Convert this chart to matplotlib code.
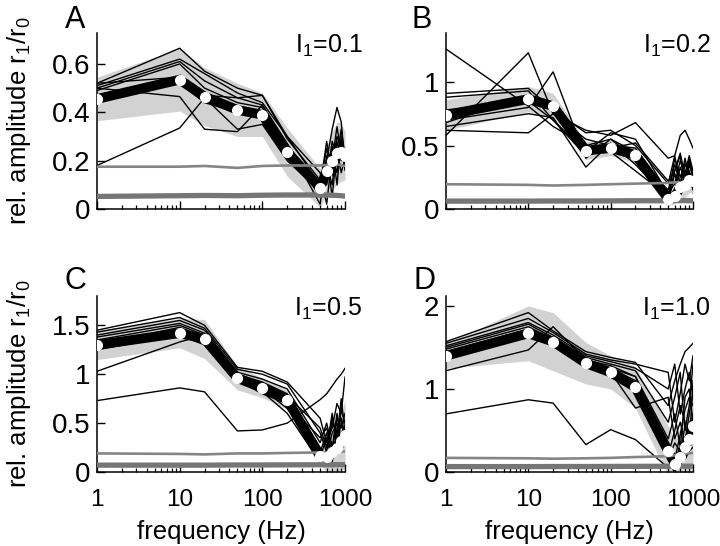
import matplotlib
matplotlib.use("Agg")
import matplotlib.pyplot as plt
from matplotlib.ticker import LogLocator, NullFormatter, FixedLocator

plt.rcParams['font.family'] = ['Liberation Sans', 'DejaVu Sans']
plt.rcParams['mathtext.fontset'] = 'custom'
plt.rcParams['mathtext.rm'] = 'Liberation Sans'
plt.rcParams['mathtext.it'] = 'Liberation Sans:italic'
plt.rcParams['mathtext.default'] = 'regular'

# ---------------- data ----------------
freq = [1, 10, 20, 50, 100, 200, 500, 600, 700, 800, 900, 1000]

# Panel A  (I1 = 0.1)
a_mean = [0.455, 0.535, 0.465, 0.41, 0.39, 0.235, 0.088, 0.158, 0.20, 0.23, 0.235, 0.22]
a_sd = [0.09, 0.13, 0.12, 0.11, 0.09, 0.10, 0.08, 0.10, 0.12, 0.13, 0.12, 0.10]
a_cells = [
    [0.52, 0.665, 0.57, 0.50, 0.47, 0.29, 0.12, 0.20, 0.33, 0.42, 0.36, 0.18],
    [0.51, 0.62, 0.56, 0.48, 0.44, 0.30, 0.10, 0.25, 0.18, 0.30, 0.25, 0.20],
    [0.50, 0.61, 0.53, 0.46, 0.43, 0.27, 0.08, 0.12, 0.28, 0.22, 0.33, 0.22],
    [0.49, 0.60, 0.50, 0.44, 0.42, 0.26, 0.05, 0.18, 0.10, 0.28, 0.20, 0.24],
    [0.52, 0.545, 0.47, 0.46, 0.47, 0.30, 0.15, 0.02, 0.22, 0.15, 0.30, 0.17],
    [0.50, 0.465, 0.33, 0.32, 0.43, 0.27, 0.02, 0.22, 0.05, 0.25, 0.15, 0.21],
    [0.18, 0.335, 0.46, 0.33, 0.35, 0.20, 0.07, 0.15, 0.26, 0.10, 0.28, 0.19],
    [0.47, 0.55, 0.47, 0.41, 0.40, 0.24, 0.10, 0.10, 0.20, 0.34, 0.23, 0.25],
    [0.46, 0.52, 0.44, 0.40, 0.38, 0.21, 0.09, 0.28, 0.14, 0.19, 0.27, 0.16],
]
a_ctrl_thin = [0.175, 0.175, 0.178, 0.17, 0.178, 0.18, 0.18, 0.182, 0.183, 0.185, 0.18, 0.178]
a_ctrl_thick = [0.052, 0.055, 0.056, 0.055, 0.057, 0.058, 0.058, 0.058, 0.057, 0.056, 0.055, 0.053]

# Panel B  (I1 = 0.2)
b_mean = [0.74, 0.866, 0.81, 0.46, 0.48, 0.425, 0.08, 0.10, 0.17, 0.19, 0.23, 0.22]
b_sd = [0.12, 0.10, 0.10, 0.07, 0.06, 0.06, 0.05, 0.06, 0.08, 0.10, 0.10, 0.10]
b_cells = [
    [1.26, 0.81, 0.65, 0.50, 0.55, 0.40, 0.15, 0.35, 0.20, 0.40, 0.25, 0.20],
    [0.58, 1.23, 0.75, 0.55, 0.50, 0.48, 0.10, 0.30, 0.42, 0.15, 0.38, 0.25],
    [0.91, 0.95, 0.78, 0.60, 0.62, 0.50, 0.20, 0.42, 0.18, 0.35, 0.30, 0.22],
    [0.88, 0.93, 0.70, 0.45, 0.60, 0.55, 0.12, 0.20, 0.38, 0.28, 0.42, 0.30],
    [0.62, 0.60, 0.75, 0.62, 0.58, 0.68, 0.40, 0.42, 0.58, 0.62, 0.55, 0.48],
    [0.70, 0.80, 1.08, 0.40, 0.55, 0.45, 0.05, 0.28, 0.12, 0.30, 0.20, 0.18],
    [0.65, 0.75, 0.72, 0.33, 0.52, 0.35, 0.08, 0.15, 0.33, 0.22, 0.40, 0.24],
    [0.68, 0.90, 0.82, 0.50, 0.45, 0.30, 0.10, 0.40, 0.25, 0.36, 0.28, 0.15],
    [0.78, 0.85, 0.70, 0.42, 0.48, 0.52, 0.22, 0.30, 0.44, 0.26, 0.34, 0.27],
]
b_ctrl_thin = [0.195, 0.19, 0.185, 0.19, 0.195, 0.20, 0.205, 0.21, 0.21, 0.215, 0.22, 0.22]
b_ctrl_thick = [0.062, 0.062, 0.063, 0.063, 0.064, 0.065, 0.065, 0.066, 0.066, 0.066, 0.065, 0.065]

# Panel C  (I1 = 0.5)
c_mean = [1.30, 1.42, 1.36, 0.96, 0.86, 0.74, 0.16, 0.15, 0.20, 0.25, 0.32, 0.38]
c_sd = [0.15, 0.15, 0.20, 0.12, 0.10, 0.10, 0.08, 0.15, 0.20, 0.25, 0.30, 0.35]
c_cells = [
    [1.45, 1.63, 1.50, 1.07, 1.03, 0.92, 0.55, 0.30, 0.45, 0.70, 0.60, 0.97],
    [1.43, 1.58, 1.47, 1.05, 1.00, 0.90, 0.40, 0.20, 0.55, 0.35, 0.75, 0.40],
    [1.40, 1.55, 1.45, 1.02, 0.95, 0.85, 0.30, 0.50, 0.25, 0.60, 0.30, 0.45],
    [1.38, 1.52, 1.42, 1.00, 0.92, 0.80, 0.25, 0.15, 0.40, 0.50, 0.20, 0.35],
    [1.35, 1.50, 1.40, 0.98, 0.90, 0.72, 0.20, 0.40, 0.10, 0.45, 0.55, 0.30],
    [1.30, 1.48, 1.38, 0.97, 0.85, 0.65, 0.15, 0.35, 0.30, 0.20, 0.65, 0.50],
    [1.28, 1.45, 1.36, 0.95, 0.82, 0.60, 0.10, 0.22, 0.50, 0.40, 0.25, 0.28],
    [1.25, 1.40, 1.30, 0.94, 0.80, 0.70, 0.35, 0.45, 0.20, 0.55, 0.45, 0.60],
    [1.03, 1.33, 1.40, 1.00, 0.88, 0.78, 0.45, 0.25, 0.60, 0.30, 0.50, 0.42],
    [0.73, 0.86, 0.82, 0.42, 0.43, 0.50, 0.74, 0.80, 0.88, 0.95, 1.00, 1.06],
]
c_ctrl_thin = [0.19, 0.185, 0.18, 0.19, 0.19, 0.195, 0.20, 0.20, 0.205, 0.21, 0.21, 0.21]
c_ctrl_thick = [0.07, 0.07, 0.07, 0.072, 0.072, 0.073, 0.074, 0.074, 0.074, 0.075, 0.075, 0.075]

# Panel D  (I1 = 1.0)
d_mean = [1.40, 1.67, 1.57, 1.31, 1.20, 1.02, 0.25, 0.10, 0.18, 0.30, 0.40, 0.55]
d_sd = [0.15, 0.33, 0.35, 0.25, 0.20, 0.25, 0.30, 0.30, 0.35, 0.40, 0.45, 0.50]
d_cells = [
    [1.57, 1.92, 1.70, 1.45, 1.38, 1.32, 0.80, 1.10, 1.30, 1.45, 1.50, 1.55],
    [1.55, 1.85, 1.68, 1.42, 1.35, 1.30, 1.20, 0.60, 0.95, 1.30, 1.10, 1.40],
    [1.52, 1.80, 1.65, 1.40, 1.33, 1.25, 1.00, 1.30, 0.70, 1.00, 1.20, 0.90],
    [1.50, 1.78, 1.62, 1.38, 1.30, 1.22, 0.60, 0.90, 1.20, 0.50, 0.80, 1.30],
    [1.48, 1.75, 1.60, 1.35, 1.28, 1.15, 0.40, 0.70, 0.30, 0.90, 1.00, 0.60],
    [1.45, 1.72, 1.58, 1.33, 1.25, 1.10, 0.20, 0.50, 0.80, 0.60, 0.30, 1.10],
    [1.42, 1.70, 1.55, 1.30, 1.22, 1.05, 0.30, 0.15, 0.45, 0.75, 0.90, 0.80],
    [1.40, 1.65, 1.52, 1.28, 1.20, 0.77, 0.90, 0.40, 0.60, 0.35, 0.70, 0.95],
    [1.22, 1.47, 1.75, 1.35, 1.25, 1.15, 0.15, 0.35, 0.25, 0.55, 0.45, 0.70],
    [0.70, 0.87, 0.83, 0.33, 0.51, 0.39, 0.05, 0.10, 0.20, 0.15, 0.25, 0.30],
]
d_ctrl_thin = [0.17, 0.165, 0.16, 0.165, 0.17, 0.18, 0.19, 0.20, 0.21, 0.22, 0.225, 0.23]
d_ctrl_thick = [0.065, 0.065, 0.066, 0.066, 0.067, 0.068, 0.069, 0.07, 0.07, 0.07, 0.07, 0.07]

panel_letters = ['A', 'B', 'C', 'D']
panel_inputs = ['0.1', '0.2', '0.5', '1.0']
y_limits = [0.728, 1.386, 1.80, 2.12]
y_ticks = [[0, 0.2, 0.4, 0.6], [0, 0.5, 1], [0, 0.5, 1, 1.5], [0, 1, 2]]
y_ticklabels = [['0', '0.2', '0.4', '0.6'], ['0', '0.5', '1'],
                ['0', '0.5', '1', '1.5'], ['0', '1', '2']]
x_ticks = [1, 10, 100, 1000]
x_ticklabels = ['1', '10', '100', '1000']

# ---------------- figure ----------------
W, H = 720, 546
fig = plt.figure(figsize=(W / 100, H / 100), dpi=100)

rects = [
    (97, 33, 248, 176),
    (446, 33, 247, 176),
    (97, 296, 248, 176),
    (446, 296, 247, 176),
]
letter_pos = [(65, 28), (412, 28), (65, 289), (413, 289)]

means = [a_mean, b_mean, c_mean, d_mean]
sds = [a_sd, b_sd, c_sd, d_sd]
cells = [a_cells, b_cells, c_cells, d_cells]
thins = [a_ctrl_thin, b_ctrl_thin, c_ctrl_thin, d_ctrl_thin]
thicks = [a_ctrl_thick, b_ctrl_thick, c_ctrl_thick, d_ctrl_thick]

for i in range(4):
    l, t, w, h = rects[i]
    ax = fig.add_axes([l / W, 1 - (t + h) / H, w / W, h / H])
    m = means[i]
    s = sds[i]
    lo = [mm - ss for mm, ss in zip(m, s)]
    hi = [mm + ss for mm, ss in zip(m, s)]
    ax.fill_between(freq, lo, hi, color='#d2d2d2', lw=0, zorder=1)
    for cell in cells[i]:
        ax.plot(freq, cell, color='black', lw=1.0, zorder=2)
    ax.plot(freq, m, color='black', lw=7, solid_joinstyle='miter', zorder=3)
    ax.plot(freq, thins[i], color='#858585', lw=1.9, zorder=4)
    ax.plot(freq, thicks[i], color='#767676', lw=3.8, zorder=4)
    ax.plot(freq, m, ls='none', marker='o', ms=7, mfc='white', mec='white', zorder=5)

    ax.set_xscale('log')
    ax.set_xlim(1, 1000)
    ax.set_ylim(0, y_limits[i])
    ax.spines['top'].set_visible(False)
    ax.spines['right'].set_visible(False)
    for sp in ('left', 'bottom'):
        ax.spines[sp].set_linewidth(1.1)
    ax.xaxis.set_major_locator(FixedLocator(x_ticks))
    ax.xaxis.set_minor_locator(LogLocator(base=10, subs=range(2, 10)))
    ax.xaxis.set_minor_formatter(NullFormatter())
    ax.set_yticks(y_ticks[i])
    ax.set_yticklabels(y_ticklabels[i])
    if i >= 2:
        ax.set_xticklabels(x_ticklabels)
    else:
        ax.set_xticklabels([])
    ax.tick_params(axis='y', which='major', direction='in', length=6, width=1.0,
                   labelsize=20, pad=5)
    ax.tick_params(axis='x', which='major', direction='in', length=6, width=1.0,
                   labelsize=17.5, pad=12)
    ax.tick_params(axis='x', which='minor', direction='in', length=3, width=0.9)
    ax.tick_params(axis='y', which='minor', left=False)

    ax.text(1.07, 0.886, r'I$_1$=' + panel_inputs[i], transform=ax.transAxes,
            ha='right', va='baseline', fontsize=18)

    lx, ly = letter_pos[i]
    fig.text(lx / W, 1 - ly / H, panel_letters[i], fontsize=22, ha='left', va='baseline')

    if i % 2 == 0:
        fig.text(19 / W, 1 - (t + h / 2) / H, r'rel. amplitude r$_1$/r$_0$',
                 rotation=90, ha='center', va='center', fontsize=18.5)
    if i >= 2:
        fig.text((l + w / 2) / W, 1 - 532 / H, 'frequency (Hz)',
                 ha='center', va='center', fontsize=18.5)

fig.savefig('out.png', dpi=100)
